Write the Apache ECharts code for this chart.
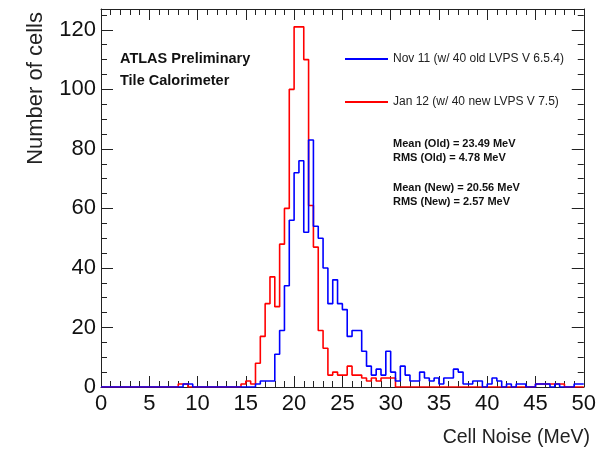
<!DOCTYPE html>
<html>
<head>
<meta charset="utf-8">
<script src="https://cdn.jsdelivr.net/npm/echarts@6/dist/echarts.min.js"></script>
<style>
  html, body { margin: 0; padding: 0; background: #fff; }
  #chart { width: 599px; height: 453px; }
</style>
</head>
<body>
<div id="chart"></div>
<script>
// 100 bins of 0.5 MeV from 0 to 50 MeV
const binWidth = 0.5;

// Nov 11 (old LVPS), blue
const oldCounts = [
    0, 0, 0, 0, 0, 0, 0, 0, 0, 0,
    0, 0, 0, 0, 0, 0, 0, 1, 1, 0,
    0, 0, 0, 0, 0, 0, 0, 0, 0, 0,
    0, 0, 1, 2, 2, 2, 11, 19, 34, 56,
    72, 76, 52, 83, 54, 50, 40, 28, 36, 28,
    26, 17, 19, 19, 12, 7, 4, 6, 4, 12,
    5, 2, 7, 4, 2, 2, 5, 3, 2, 3,
    1, 3, 3, 6, 5, 1, 1, 2, 2, 0,
    1, 3, 2, 0, 1, 0, 1, 1, 0, 0,
    1, 1, 1, 0, 1, 0, 0, 0, 1, 1
];

// Jan 12 (new LVPS), red
const newCounts = [
    0, 0, 0, 0, 0, 0, 0, 0, 0, 0,
    0, 0, 0, 0, 0, 0, 1, 1, 0, 0,
    0, 0, 0, 0, 0, 0, 0, 0, 0, 1,
    2, 1, 8, 17, 28, 37, 27, 48, 60, 100,
    121, 121, 110, 61, 47, 19, 13, 4, 5, 4,
    4, 7, 4, 4, 3, 2, 3, 2, 3, 3,
    3, 0, 0, 0, 0, 0, 0, 0, 0, 0,
    0, 0, 0, 0, 0, 0, 0, 0, 0, 0,
    0, 0, 0, 0, 0, 0, 0, 0, 0, 0,
    1, 1, 1, 1, 1, 1, 0, 0, 0, 0
];

const seriesNames = [
    "Nov 11 (w/ 40 old LVPS V 6.5.4)",
    "Jan 12 (w/ 40 new LVPS V 7.5)"
];

const statLines = [
    "Mean (Old) = 23.49 MeV",
    "RMS (Old) = 4.78 MeV",
    "Mean (New) = 20.56 MeV",
    "RMS (New) = 2.57 MeV"
];

const SANS = "'Liberation Sans', Arial, Helvetica, sans-serif";

// histogram steps: each bin starts at its low edge, last point closes the final bin
function toSteps(counts){
    const pts = counts.map((c, i) => [i * binWidth, c]);
    pts.push([counts.length * binWidth, counts[counts.length - 1]]);
    return pts;
}

const chart = echarts.init(document.getElementById("chart"));

const tickStyle = { color: "#222", width: 1 };

function xAx(pos, labels){
    return {
        type: "value",
        position: pos,
        min: 0,
        max: 50,
        interval: 5,
        axisLine: { show: true, onZero: false, lineStyle: { color: "#222", width: 1 } },
        axisTick: { show: true, inside: true, length: 11, lineStyle: tickStyle },
        minorTick: { show: true, splitNumber: 5, length: 6, lineStyle: tickStyle },
        axisLabel: {
            show: labels,
            margin: 6,
            color: "#111",
            fontFamily: SANS,
            fontSize: 22
        },
        splitLine: { show: false }
    };
}

function yAx(pos, labels){
    return {
        type: "value",
        position: pos,
        min: 0,
        max: 127,
        interval: 20,
        axisLine: { show: true, onZero: false, lineStyle: { color: "#222", width: 1 } },
        axisTick: { show: true, inside: true, length: 12, lineStyle: tickStyle },
        minorTick: { show: true, splitNumber: 4, length: 6, lineStyle: tickStyle },
        axisLabel: {
            show: labels,
            margin: 5,
            color: "#111",
            fontFamily: SANS,
            fontSize: 22,
            showMaxLabel: false
        },
        splitLine: { show: false }
    };
}

chart.setOption({
    animation: false,
    backgroundColor: "#fff",
    grid: { left: 101, right: 12, top: 9, bottom: 66, containLabel: false },
    xAxis: [ xAx("bottom", true), xAx("top", false) ],
    yAxis: [ yAx("left", true), yAx("right", false) ],
    legend: {
        orient: "vertical",
        left: 340,
        top: 48,
        itemWidth: 43,
        itemHeight: 2,
        itemGap: 31,
        icon: "rect",
        textStyle: {
            color: "#222",
            fontFamily: SANS,
            fontSize: 12
        },
        data: seriesNames
    },
    graphic: [
        { type: "text", left: 120, top: 51,
          style: { text: "ATLAS Preliminary", font: "bold 14.5px " + SANS, fill: "#111" } },
        { type: "text", left: 120, top: 73,
          style: { text: "Tile Calorimeter", font: "bold 14.5px " + SANS, fill: "#111" } },
        { type: "text", left: 393, top: 138,
          style: { text: statLines[0], font: "bold 11px " + SANS, fill: "#111" } },
        { type: "text", left: 393, top: 152,
          style: { text: statLines[1], font: "bold 11px " + SANS, fill: "#111" } },
        { type: "text", left: 393, top: 182,
          style: { text: statLines[2], font: "bold 11px " + SANS, fill: "#111" } },
        { type: "text", left: 393, top: 196,
          style: { text: statLines[3], font: "bold 11px " + SANS, fill: "#111" } },
        { type: "text", left: 25, top: 12, rotation: Math.PI / 2,
          style: { text: "Number of cells", font: "22px " + SANS, fill: "#222" } },
        { type: "text", right: 9, top: 428,
          style: { text: "Cell Noise (MeV)", font: "19.5px " + SANS, fill: "#222" } }
    ],
    series: [
        {
            name: seriesNames[0],
            type: "line",
            step: "end",
            symbol: "none",
            z: 3,
            lineStyle: { color: "#0000ff", width: 1.6 },
            itemStyle: { color: "#0000ff" },
            data: toSteps(oldCounts)
        },
        {
            name: seriesNames[1],
            type: "line",
            step: "end",
            symbol: "none",
            z: 2,
            lineStyle: { color: "#ff0000", width: 1.6 },
            itemStyle: { color: "#ff0000" },
            data: toSteps(newCounts)
        }
    ]
});
</script>
</body>
</html>
